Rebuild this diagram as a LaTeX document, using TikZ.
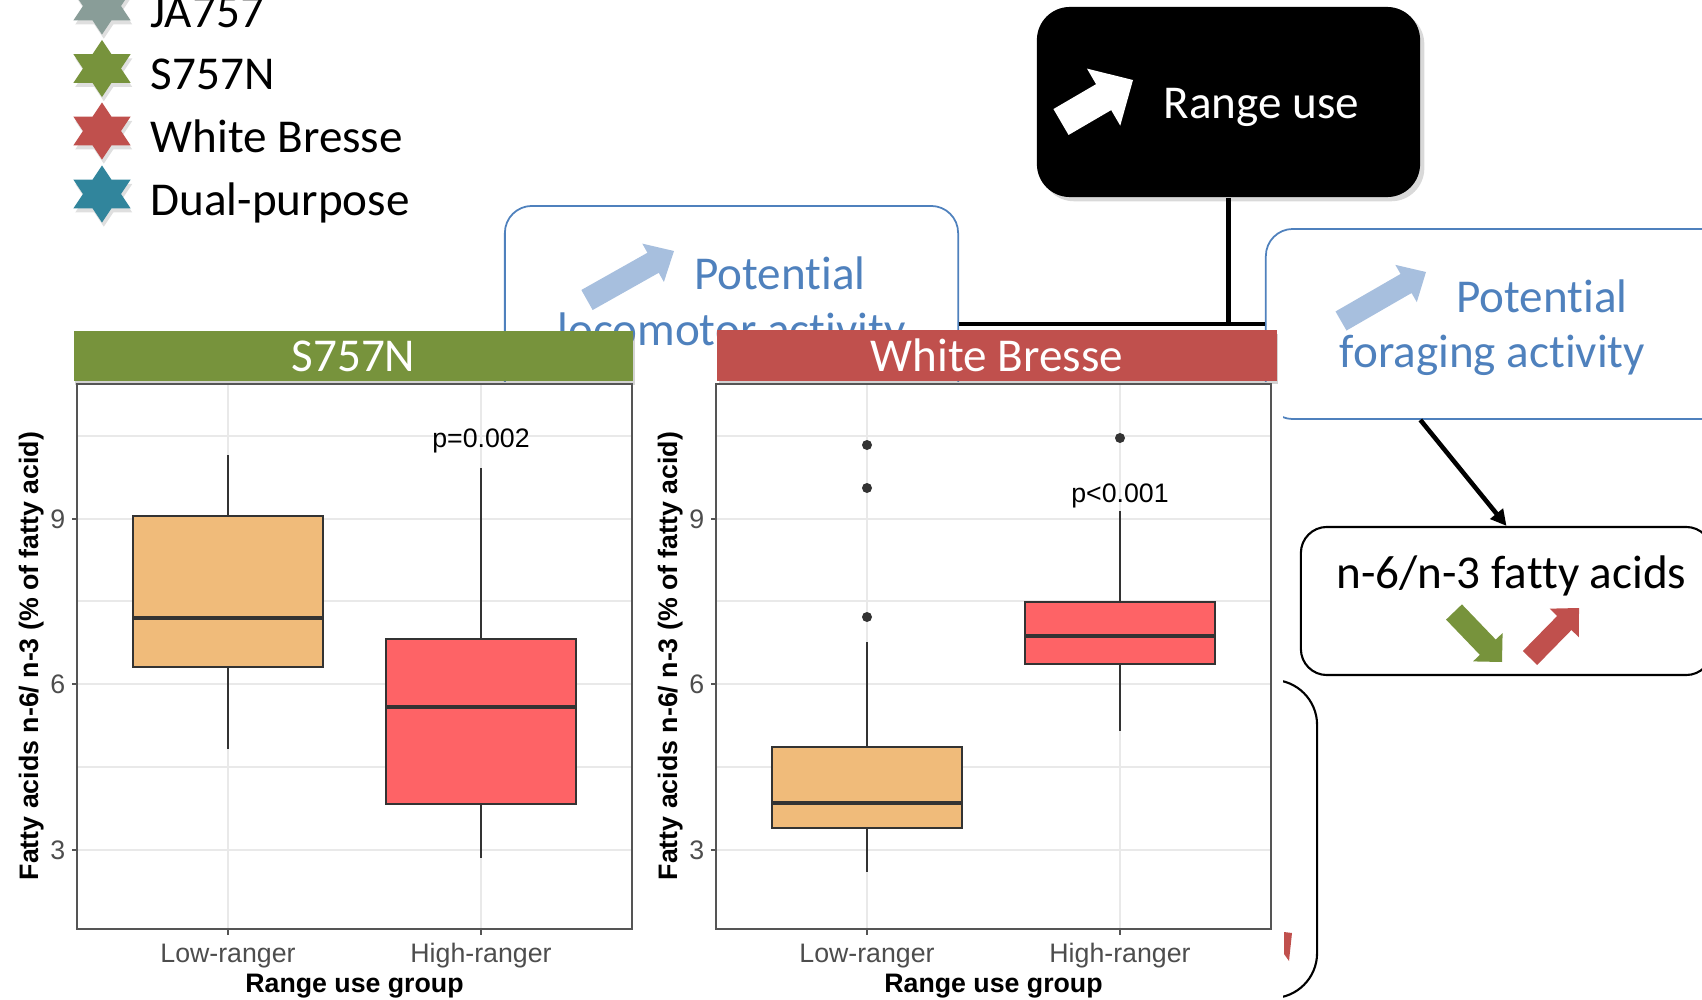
\documentclass[tikz,border=0pt]{standalone}
\usepackage{fontspec}
\setmainfont{Carlito}[Ligatures={NoCommon}, Contextuals={NoAlternate}]
\newfontfamily\plotfont{Liberation Sans}
\usepackage{tikz}
\usetikzlibrary{positioning}
\usetikzlibrary{shadows}
\usetikzlibrary{shapes.geometric}
\usetikzlibrary{arrows.meta}
\usetikzlibrary{calc}

\definecolor{jagray}{RGB}{137,157,152}
\definecolor{sgreen}{RGB}{119,147,60}
\definecolor{wbred}{RGB}{192,80,77}
\definecolor{dpteal}{RGB}{49,133,156}
\definecolor{potblue}{RGB}{79,129,189}
\definecolor{arrblue}{RGB}{167,191,222}
\definecolor{lowfill}{RGB}{240,187,122}
\definecolor{highfill}{RGB}{254,99,102}
\definecolor{boxline}{RGB}{51,51,51}
\definecolor{gridgray}{RGB}{233,233,233}
\definecolor{axgray}{RGB}{77,77,77}
\definecolor{framegray}{RGB}{85,85,85}

\newcommand{\slidesize}{\fontsize{13.4}{16}\selectfont}
\newcommand{\ticksize}{\plotfont\fontsize{7.6}{9}\selectfont}
\newcommand{\titlesize}{\plotfont\bfseries\fontsize{7.6}{9}\selectfont}

% block arrow: colour, tail, tip, half shaft, half head, head length
\newcommand{\blockarrow}[6]{%
  \fill[#1] ($(#2)!#4!90:(#3)$) -- ($(#3)!#6!(#2)!#4!-90:(#2)$)
    -- ($(#3)!#6!(#2)!#5!-90:(#2)$) -- (#3) -- ($(#3)!#6!(#2)!#5!90:(#2)$)
    -- ($(#3)!#6!(#2)!#4!90:(#2)$) -- ($(#2)!#4!-90:(#3)$) -- cycle;}

\tikzset{
  slidetext/.style={inner sep=0pt, font=\slidesize},
  legtext/.style={slidetext, anchor=base west},
  hexstar/.style={star, star points=6, star point ratio=1.732, inner sep=0pt,
    minimum size=0.57cm, drop shadow={opacity=0.25, shadow xshift=0.5pt, shadow yshift=-1.2pt}},
  rangebox/.style={fill=black, rounded corners=0.33cm, minimum width=3.83cm, minimum height=1.9cm,
    drop shadow={opacity=0.3, shadow xshift=1.2pt, shadow yshift=-1.2pt}},
  potbox/.style={draw=potblue, line width=0.5pt, rounded corners=0.27cm},
  conn/.style={black, line width=1.4pt},
  header/.style={minimum width=5.59cm, minimum height=0.5cm, inner sep=0pt, text=white,
    font=\slidesize, drop shadow={opacity=0.35, shadow xshift=0.4pt, shadow yshift=-1pt}},
  gridminor/.style={gridgray, line width=0.3pt},
  gridmajor/.style={gridgray, line width=0.5pt},
  panel/.style={framegray, line width=0.45pt},
  tick/.style={framegray, line width=0.45pt},
  ticklab/.style={inner sep=0pt, text=axgray, font=\ticksize},
  axtitle/.style={inner sep=0pt, font=\titlesize},
  whisk/.style={boxline, line width=0.6pt},
  lowbox/.style={draw=boxline, line width=0.6pt, fill=lowfill},
  highbox/.style={draw=boxline, line width=0.6pt, fill=highfill},
  median/.style={boxline, line width=1.2pt},
  outlier/.style={boxline}
}

\begin{document}
\begin{tikzpicture}[x=0.01cm, y=-0.01cm]
\useasboundingbox (0,0) rectangle (1702,1000);
\clip (0,0) rectangle (1702,1000);

% legend
\foreach \yy/\col/\nm/\txt in {6/jagray/ja/JA757, 68.5/sgreen/sn/S757N, 131/wbred/wb/White Bresse, 194/dpteal/dp/Dual-purpose}{
  \begin{scope}[shift={(102,\yy)}, xscale=1.1547]
    \node[hexstar, fill=\col, transform shape] (star\nm) at (0,0) {};
  \end{scope}
  \node[legtext] (leg\nm) at (150,{\yy+21.5}) {\txt};
}

% potential boxes
\node[potbox, minimum width=4.53cm, minimum height=2.36cm] (loco) at (731.5,324) {};
\blockarrow{arrblue}{587,300}{674,251}{0.115cm}{0.22cm}{0.24cm}
\node[slidetext, text=potblue, anchor=base] (locotxt1) at (780,289) {Potential};
\node[slidetext, text=potblue, anchor=base] (locotxt2) at (731.5,345) {locomotor activity};

\node[potbox, minimum width=4.94cm, minimum height=1.9cm] (forage) at (1513,324) {};
\blockarrow{arrblue}{1341,321}{1426,272}{0.11cm}{0.215cm}{0.23cm}
\node[slidetext, text=potblue, anchor=base] (foragetxt1) at (1542,312) {Potential};
\node[slidetext, text=potblue, anchor=base] (foragetxt2) at (1492.5,367) {foraging activity};

% range use
\node[rangebox] (range) at (1228.5,102) {};
\blockarrow{white}{1061,122}{1133,80}{0.15cm}{0.33cm}{0.34cm}
\node[slidetext, text=white, anchor=base west] (rangetxt) at (1163,118) {Range use};

\draw[conn] (range.south) -- (range.south |- loco.east);
\draw[conn] (loco.east) -- (forage.west);

% fatty acids box
\node[draw, line width=0.6pt, rounded corners=0.26cm, minimum width=4.11cm, minimum height=1.48cm] (n6) at (1506.5,601) {};
\node[slidetext, anchor=base] (n6txt) at (1511.5,588) {n-6/n-3 fatty acids};
\blockarrow{sgreen}{1454,612}{1502,662}{0.11cm}{0.205cm}{0.205cm}
\blockarrow{wbred}{1530,658}{1579,608}{0.1cm}{0.205cm}{0.21cm}
\draw[conn, line width=1.3pt, -{Triangle[length=4.5pt, width=4.5pt]}] (forage.226) -- (n6.north);

% box behind the plots
\node[draw, line width=0.6pt, rounded corners=0.45cm, minimum width=3.17cm, minimum height=3.18cm] (hidbox) at (1158.5,839) {};
\fill[wbred] (1284,932) -- (1292,933) -- (1289,961) -- (1284,954) -- cycle;

% plot images
\fill[white] (0,382) rectangle (1283,1000);
\node[header, fill=sgreen] (hdS) at (353.5,356) {S757N};
\node[header, fill=wbred] (hdW) at (997,355.5) {White Bresse};

\foreach \dx/\p in {0/s, 639/w}{
  \foreach \yy in {436,601,767}
    \draw[gridminor] ({77+\dx},\yy) -- ({632+\dx},\yy);
  \foreach \yy in {519,684,850}
    \draw[gridmajor] ({77+\dx},\yy) -- ({632+\dx},\yy);
  \foreach \xx in {228,481}
    \draw[gridmajor] ({\xx+\dx},384) -- ({\xx+\dx},929);
  \draw[panel] ({77+\dx},384) rectangle ({632+\dx},929);
  \foreach \yy/\lab in {519/9,684/6,850/3}{
    \draw[tick] ({72+\dx},\yy) -- ({77+\dx},\yy);
    \node[ticklab, anchor=east] (yl\lab\p) at ({66+\dx},\yy) {\lab};
  }
  \foreach \xx/\lab/\n in {228/Low-ranger/lo, 481/High-ranger/hi}{
    \draw[tick] ({\xx+\dx},929) -- ({\xx+\dx},935);
    \node[ticklab, anchor=base] (xl\n\p) at ({\xx+\dx},962) {\lab};
  }
  \node[axtitle, anchor=base] (xt\p) at ({354.5+\dx},992) {Range use group};
  \node[axtitle, anchor=base, rotate=90] (yt\p) at ({38+\dx},656) {Fatty acids n-6/ n-3 (\% of fatty acid)};
}

% S757N boxes
\draw[whisk] (228,455) -- (228,516);
\draw[whisk] (228,667) -- (228,749);
\draw[lowbox] (133,516) rectangle (323,667);
\draw[median] (133,618) -- (323,618);
\draw[whisk] (481,468) -- (481,639);
\draw[whisk] (481,804) -- (481,858);
\draw[highbox] (386,639) rectangle (576,804);
\draw[median] (386,707) -- (576,707);
\node[ticklab, text=black, anchor=base] (pS) at (481,447) {p=0.002};

% White Bresse boxes
\draw[whisk] (867,642) -- (867,747);
\draw[whisk] (867,828) -- (867,872);
\draw[lowbox] (772,747) rectangle (962,828);
\draw[median] (772,803) -- (962,803);
\fill[outlier] (867,445) circle (0.05cm);
\fill[outlier] (867,488) circle (0.05cm);
\fill[outlier] (867,617) circle (0.05cm);
\draw[whisk] (1120,511) -- (1120,602);
\draw[whisk] (1120,664) -- (1120,731);
\draw[highbox] (1025,602) rectangle (1215,664);
\draw[median] (1025,636) -- (1215,636);
\fill[outlier] (1120,438) circle (0.05cm);
\node[ticklab, text=black, anchor=base] (pW) at (1120,502) {p<0.001};

\end{tikzpicture}
\end{document}
